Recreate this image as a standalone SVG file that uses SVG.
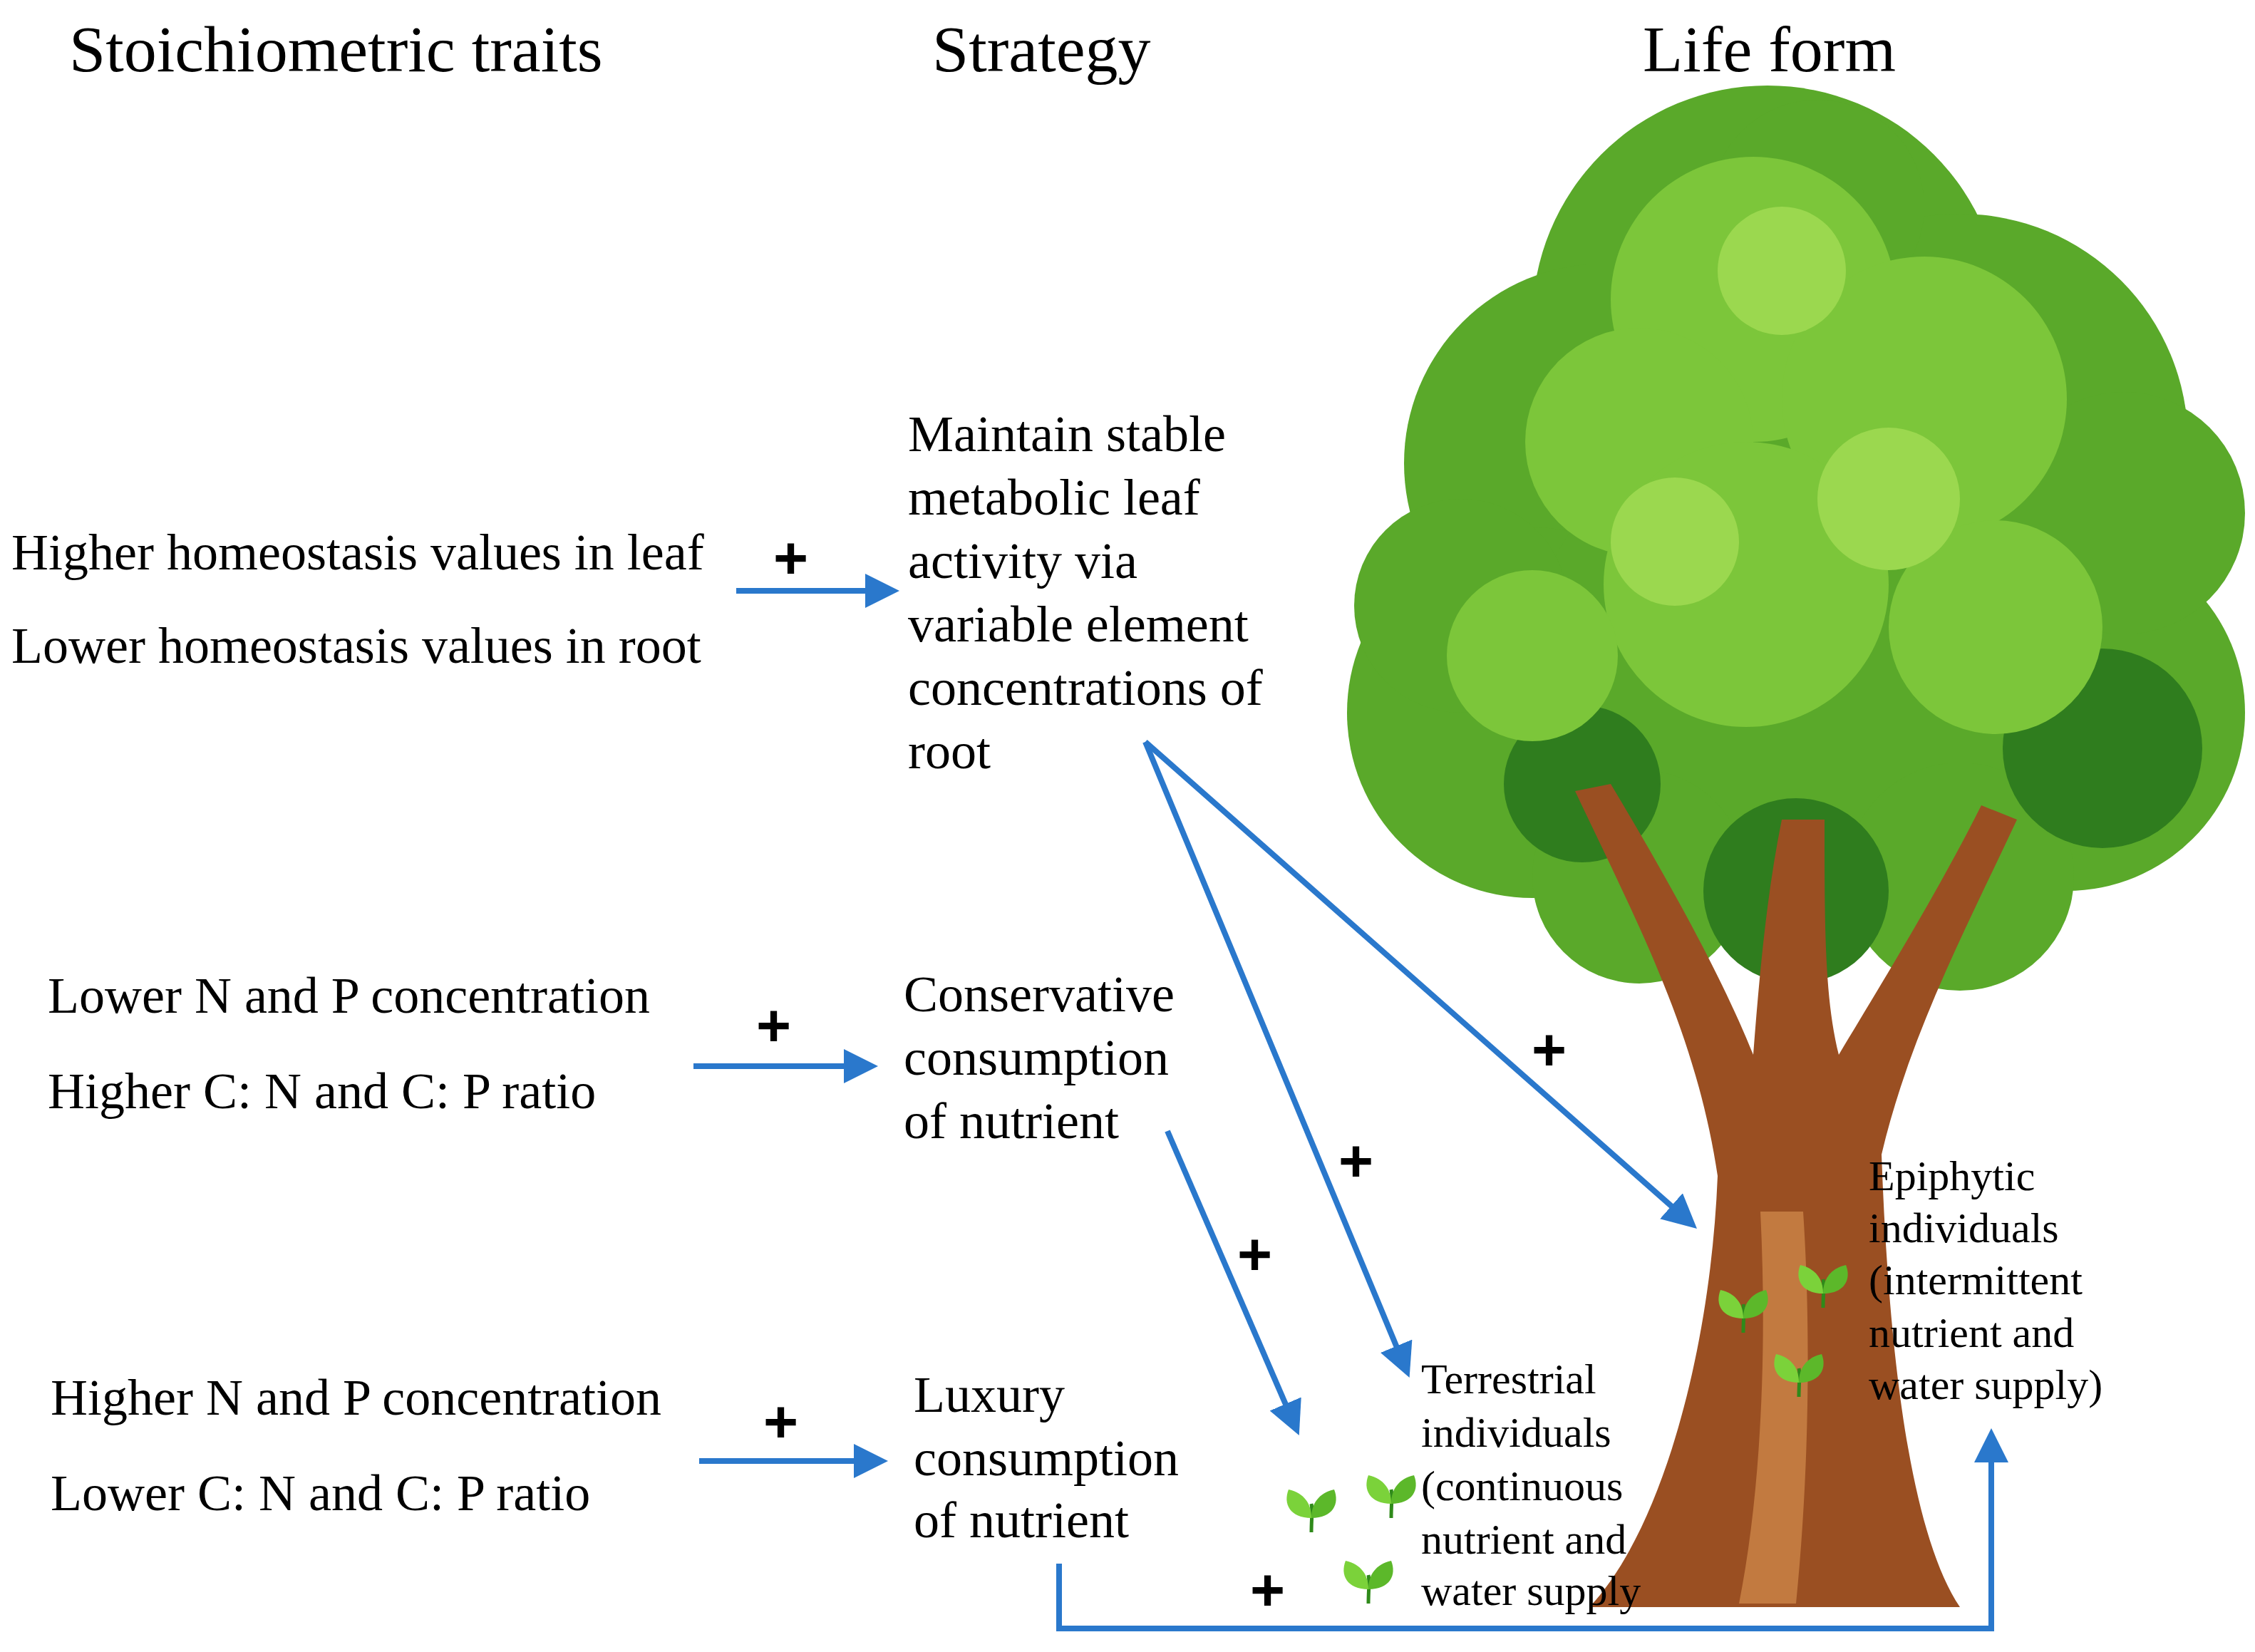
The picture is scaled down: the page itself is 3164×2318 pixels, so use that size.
<svg xmlns="http://www.w3.org/2000/svg" width="3164" height="2318" viewBox="0 0 3164 2318">
<style>
.h{font-family:"Liberation Serif",serif;font-size:92px;fill:#000}
.t{font-family:"Liberation Serif",serif;font-size:72px;fill:#000}
.s{font-family:"Liberation Serif",serif;font-size:60px;fill:#000}
.p{font-family:"Liberation Sans",sans-serif;font-size:84px;font-weight:bold;fill:#000}
.c{fill:none;stroke:#2a78cc;stroke-width:8}
</style>
<defs>
<marker id="a" markerWidth="6" markerHeight="6" refX="4.5" refY="3" orient="auto" markerUnits="strokeWidth">
<path d="M0,0 L6,3 L0,6 Z" fill="#2a78cc"/></marker>
<g id="sp"><path d="M0,40 C0,20 2,10 0,0" stroke="#2f8a1a" stroke-width="5" fill="none"/>
<path d="M0,20 C-30,20 -40,0 -32,-20 C-10,-15 0,0 0,20Z" fill="#7bd23a"/>
<path d="M0,20 C30,20 40,0 32,-20 C10,-15 0,0 0,20Z" fill="#5cb82a"/></g>
</defs>
<rect width="3164" height="2318" fill="#fff"/>
<g id="tree">
<g fill="#5aa92a">
<circle cx="2480" cy="450" r="330"/><circle cx="2250" cy="650" r="280"/><circle cx="2750" cy="620" r="320"/>
<circle cx="2150" cy="1000" r="260"/><circle cx="2900" cy="1000" r="250"/><circle cx="2500" cy="950" r="360"/>
<circle cx="2550" cy="290" r="150"/><circle cx="2980" cy="720" r="170"/><circle cx="2050" cy="850" r="150"/>
<circle cx="2300" cy="1230" r="150"/><circle cx="2750" cy="1230" r="160"/>
</g>
<g fill="#2f7d1e">
<circle cx="2950" cy="1050" r="140"/><circle cx="2220" cy="1100" r="110"/><circle cx="2520" cy="1250" r="130"/>
</g>
<g fill="#7cc63a">
<circle cx="2460" cy="420" r="200"/><circle cx="2300" cy="620" r="160"/><circle cx="2700" cy="560" r="200"/>
<circle cx="2450" cy="820" r="200"/><circle cx="2150" cy="920" r="120"/><circle cx="2800" cy="880" r="150"/>
</g>
<g fill="#9bd84f">
<circle cx="2500" cy="380" r="90"/><circle cx="2650" cy="700" r="100"/><circle cx="2350" cy="760" r="90"/>
</g>
<path d="M2230,2255 C2330,2150 2400,1900 2410,1650 C2380,1450 2300,1300 2210,1110 L2260,1100 C2350,1250 2420,1380 2460,1480 C2470,1350 2480,1250 2500,1150 L2560,1150 C2560,1300 2560,1400 2580,1480 C2640,1380 2720,1250 2780,1130 L2830,1150 C2760,1300 2680,1450 2640,1620 C2650,1900 2680,2150 2750,2255 Z" fill="#9a4f22"/>
<path d="M2470,1700 C2480,1900 2470,2100 2440,2250 L2520,2250 C2540,2050 2540,1850 2530,1700 Z" fill="#c27a40"/>
</g>
<g id="sprouts">
<use href="#sp" x="1840" y="2110"/><use href="#sp" x="1952" y="2090"/><use href="#sp" x="1920" y="2210"/>
<use href="#sp" x="2446" y="1830"/><use href="#sp" x="2558" y="1795"/><use href="#sp" x="2524" y="1920"/>
</g>
<g id="headers">
<text class="h" x="97" y="100">Stoichiometric  traits</text>
<text class="h" x="1308" y="100">Strategy</text>
<text class="h" x="2305" y="100">Life form</text>
</g>
<g id="trait1"><text class="t" x="16" y="799">Higher homeostasis values in leaf</text><text class="t" x="16" y="930">Lower homeostasis values in root</text></g>
<g id="trait2"><text class="t" x="67" y="1421">Lower N and P concentration</text><text class="t" x="67" y="1555">Higher C: N and C: P ratio</text></g>
<g id="trait3"><text class="t" x="71" y="1985">Higher N and P concentration</text><text class="t" x="71" y="2119">Lower C: N and C: P ratio</text></g>
<g id="strat1"><text class="t" x="1274" y="633">Maintain stable</text><text class="t" x="1274" y="722">metabolic leaf</text><text class="t" x="1274" y="811">activity via</text><text class="t" x="1274" y="900">variable element</text><text class="t" x="1274" y="989">concentrations of</text><text class="t" x="1274" y="1078">root</text></g>
<g id="strat2"><text class="t" x="1268" y="1419">Conservative</text><text class="t" x="1268" y="1508">consumption</text><text class="t" x="1268" y="1597">of nutrient</text></g>
<g id="strat3"><text class="t" x="1282" y="1981">Luxury</text><text class="t" x="1282" y="2070">consumption</text><text class="t" x="1282" y="2157">of nutrient</text></g>
<g id="terrestrial"><text class="s" x="1994" y="1955">Terrestrial</text><text class="s" x="1994" y="2030">individuals</text><text class="s" x="1994" y="2105">(continuous</text><text class="s" x="1994" y="2180">nutrient and</text><text class="s" x="1994" y="2252">water supply</text></g>
<g id="epiphytic"><text class="s" x="2622" y="1670">Epiphytic</text><text class="s" x="2622" y="1743">individuals</text><text class="s" x="2622" y="1816">(intermittent</text><text class="s" x="2622" y="1890">nutrient and</text><text class="s" x="2622" y="1963">water supply)</text></g>
<g id="connectors">
<path class="c" marker-end="url(#a)" d="M1033,829 L1250,829"/>
<path class="c" marker-end="url(#a)" d="M973,1496 L1220,1496"/>
<path class="c" marker-end="url(#a)" d="M981,2050 L1234,2050"/>
<path class="c" marker-end="url(#a)" d="M1607,1041 L2372,1716"/>
<path class="c" marker-end="url(#a)" d="M1607,1041 L1973,1922"/>
<path class="c" marker-end="url(#a)" d="M1638,1587 L1818,2003"/>
<path class="c" marker-end="url(#a)" d="M1486,2194 L1486,2285 L2794,2285 L2794,2016"/>
<text class="p" x="1085" y="812">+</text><text class="p" x="1061" y="1468">+</text><text class="p" x="1071" y="2024">+</text>
<text class="p" x="2149" y="1502">+</text><text class="p" x="1878" y="1658">+</text><text class="p" x="1736" y="1789">+</text><text class="p" x="1754" y="2260">+</text>
</g>
</svg>
